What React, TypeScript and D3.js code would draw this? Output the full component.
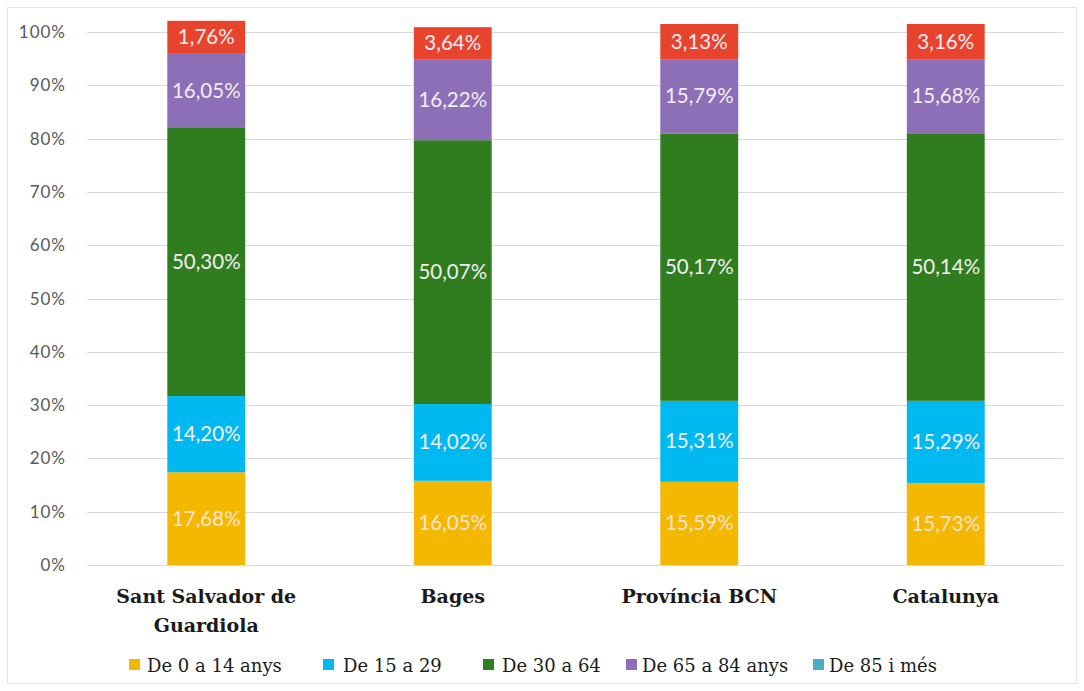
import * as d3 from "d3";
import { useEffect, useRef } from "react";

// categories and series
const categories = ["Sant Salvador de Guardiola", "Bages", "Província BCN", "Catalunya"];
const categoryLines = [["Sant Salvador de", "Guardiola"], ["Bages"], ["Província BCN"], ["Catalunya"]];
const seriesNames = ["De 0 a 14 anys", "De 15 a 29", "De 30 a 64", "De 65 a 84 anys", "De 85 i més"];

// segment heights as drawn in the picture (%)
const age0to14 = [17.4, 15.8, 15.6, 15.4];
const age15to29 = [14.3, 14.4, 15.2, 15.4];
const age30to64 = [50.3, 49.5, 50.1, 50.2];
const age65to84 = [13.9, 15.2, 14.0, 13.9];
const age85plus = [6.2, 6.0, 6.6, 6.6];

// printed labels
const label0to14 = ["17,68%", "16,05%", "15,59%", "15,73%"];
const label15to29 = ["14,20%", "14,02%", "15,31%", "15,29%"];
const label30to64 = ["50,30%", "50,07%", "50,17%", "50,14%"];
const label65to84 = ["16,05%", "16,22%", "15,79%", "15,68%"];
const label85plus = ["1,76%", "3,64%", "3,13%", "3,16%"];

const yTicks = [0, 10, 20, 30, 40, 50, 60, 70, 80, 90, 100];

const barColors = ["#F5B800", "#00B9F1", "#2F7D1F", "#8C6FB6", "#E8432C"];
const legendColors = ["#F5B800", "#00B9F1", "#2F7D1F", "#8C6FB6", "#4BACC6"];

export default function App() {
  const svgRef = useRef(null);

  useEffect(() => {
    const width = 1084;
    const height = 691;
    const svg = d3.select(svgRef.current);
    svg.selectAll("*").remove();

    // frame
    svg
      .append("rect")
      .attr("x", 7.5)
      .attr("y", 7.5)
      .attr("width", width - 15)
      .attr("height", height - 15)
      .attr("fill", "#ffffff")
      .attr("stroke", "#e4e4e4");

    //scales
    const x = d3
      .scaleBand()
      .domain(categories)
      .range([83, 1069])
      .paddingInner(0.684)
      .paddingOuter(0.342);
    const y = d3.scaleLinear().domain([0, 100]).range([565, 32]);

    //gridlines + tick labels
    const grid = svg.append("g");
    grid
      .selectAll("line")
      .data(yTicks)
      .enter()
      .append("line")
      .attr("x1", 87)
      .attr("x2", 1063)
      .attr("y1", (d) => Math.round(y(d)) + 0.5)
      .attr("y2", (d) => Math.round(y(d)) + 0.5)
      .attr("stroke", "#d9d9d9");
    grid
      .selectAll("text")
      .data(yTicks)
      .enter()
      .append("text")
      .attr("x", 66)
      .attr("y", (d) => y(d) + 6)
      .attr("text-anchor", "end")
      .attr("font-family", "Lato, sans-serif")
      .attr("font-size", 17)
      .attr("letter-spacing", 1)
      .attr("fill", "#595959")
      .text((d) => d + "%");

    //stack
    const values = [age0to14, age15to29, age30to64, age65to84, age85plus];
    const labels = [label0to14, label15to29, label30to64, label65to84, label85plus];
    const rows = categories.map((c, i) => {
      const row = { category: c };
      seriesNames.forEach((s, k) => (row[s] = values[k][i]));
      return row;
    });
    const stacked = d3.stack().keys(seriesNames)(rows);

    stacked.forEach((layer, k) => {
      const g = svg.append("g");
      g.selectAll("rect")
        .data(layer)
        .enter()
        .append("rect")
        .attr("x", (d) => x(d.data.category))
        .attr("y", (d) => y(d[1]))
        .attr("width", x.bandwidth())
        .attr("height", (d) => y(d[0]) - y(d[1]))
        .attr("fill", barColors[k]);
      g.selectAll("text")
        .data(layer)
        .enter()
        .append("text")
        .attr("x", (d) => x(d.data.category) + x.bandwidth() / 2)
        .attr("y", (d) => (y(d[0]) + y(d[1])) / 2 + 7)
        .attr("text-anchor", "middle")
        .attr("font-family", "Lato, sans-serif")
        .attr("font-size", 20.5)
        .attr("fill", k === 0 ? "#fbe3d6" : "#f2eef4")
        .text((d, i) => labels[k][i]);
    });

    //category labels
    const cat = svg.append("g");
    categories.forEach((c, i) => {
      categoryLines[i].forEach((line, j) => {
        cat
          .append("text")
          .attr("x", x(c) + x.bandwidth() / 2)
          .attr("y", 603 + j * 29)
          .attr("text-anchor", "middle")
          .attr("font-family", "'DejaVu Serif', serif")
          .attr("font-weight", "bold")
          .attr("font-size", 19)
          .attr("fill", "#1a1a1a")
          .text(line);
      });
    });

    //legend
    const legendX = [129, 323, 483, 626, 813];
    const legendTextX = [147, 343, 502, 642, 829];
    const legend = svg.append("g");
    seriesNames.forEach((s, k) => {
      legend
        .append("rect")
        .attr("x", legendX[k])
        .attr("y", 659)
        .attr("width", 11)
        .attr("height", 11)
        .attr("fill", legendColors[k]);
      legend
        .append("text")
        .attr("x", legendTextX[k])
        .attr("y", 672)
        .attr("font-family", "'DejaVu Serif', serif")
        .attr("font-size", 18)
        .attr("fill", "#1a1a1a")
        .text(s);
    });
  }, []);

  return (
    <svg
      ref={svgRef}
      width={1084}
      height={691}
      style={{ position: "absolute", left: 0, top: 0, background: "#fff" }}
    ></svg>
  );
}
